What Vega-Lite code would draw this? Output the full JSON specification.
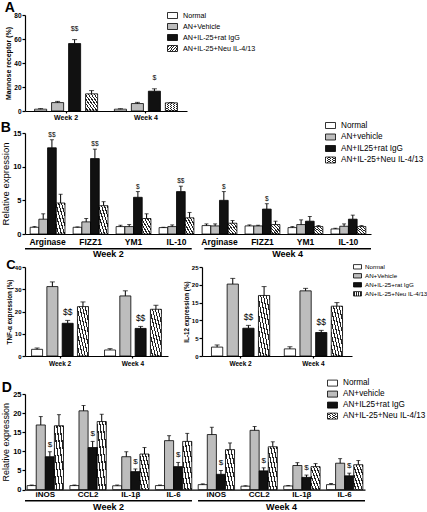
{
"$schema": "https://vega.github.io/schema/vega-lite/v6.json",
"background": "white",
"padding": 0,
"config": {
  "font": "Liberation Sans",
  "view": {"stroke": null},
  "axis": {"domainColor": "black", "tickColor": "black", "labelColor": "black", "titleColor": "black", "grid": false, "domainWidth": 1.2, "tickWidth": 1.2},
  "legend": {"labelColor": "black", "symbolStrokeColor": "black", "symbolStrokeWidth": 0.8},
  "title": {"anchor": "start", "frame": "bounds", "fontSize": 14, "fontWeight": "bold", "color": "black"}
},
"datasets": {
  "a": [
    {"week": "Week 2", "group": "Normal", "value": 1.5, "hi": 2.0},
    {"week": "Week 2", "group": "AN+Vehicle", "value": 7.0, "hi": 8.0},
    {"week": "Week 2", "group": "AN+IL-25+rat IgG", "value": 56.2, "hi": 59.5, "sig": "$$"},
    {"week": "Week 2", "group": "AN+IL-25+Neu IL-4/13", "value": 14.3, "hi": 17.0},
    {"week": "Week 4", "group": "Normal", "value": 1.5, "hi": 1.9},
    {"week": "Week 4", "group": "AN+Vehicle", "value": 6.2, "hi": 7.2},
    {"week": "Week 4", "group": "AN+IL-25+rat IgG", "value": 16.5, "hi": 18.5, "sig": "$"},
    {"week": "Week 4", "group": "AN+IL-25+Neu IL-4/13", "value": 6.8, "hi": 7.0}
  ],
  "b": [
    {"cat": "Arginase_W2", "group": "Normal", "value": 1.0, "hi": 1.1},
    {"cat": "Arginase_W2", "group": "AN+vehicle", "value": 2.2, "hi": 3.0},
    {"cat": "Arginase_W2", "group": "AN+IL25+rat IgG", "value": 12.8, "hi": 14.0, "sig": "$$"},
    {"cat": "Arginase_W2", "group": "AN+IL-25+Neu IL-4/13", "value": 4.6, "hi": 5.9},
    {"cat": "FIZZ1_W2", "group": "Normal", "value": 1.0, "hi": 1.05},
    {"cat": "FIZZ1_W2", "group": "AN+vehicle", "value": 1.8, "hi": 2.3},
    {"cat": "FIZZ1_W2", "group": "AN+IL25+rat IgG", "value": 11.2, "hi": 12.6, "sig": "$$"},
    {"cat": "FIZZ1_W2", "group": "AN+IL-25+Neu IL-4/13", "value": 4.2, "hi": 4.8},
    {"cat": "YM1_W2", "group": "Normal", "value": 1.1, "hi": 1.3},
    {"cat": "YM1_W2", "group": "AN+vehicle", "value": 1.1, "hi": 1.4},
    {"cat": "YM1_W2", "group": "AN+IL25+rat IgG", "value": 5.45, "hi": 6.3, "sig": "$"},
    {"cat": "YM1_W2", "group": "AN+IL-25+Neu IL-4/13", "value": 2.3, "hi": 3.0},
    {"cat": "IL-10_W2", "group": "Normal", "value": 0.95, "hi": 1.0},
    {"cat": "IL-10_W2", "group": "AN+vehicle", "value": 1.1, "hi": 1.35},
    {"cat": "IL-10_W2", "group": "AN+IL25+rat IgG", "value": 6.3, "hi": 7.1, "sig": "$$"},
    {"cat": "IL-10_W2", "group": "AN+IL-25+Neu IL-4/13", "value": 2.4, "hi": 3.2},
    {"cat": "Arginase_W4", "group": "Normal", "value": 1.25, "hi": 1.5},
    {"cat": "Arginase_W4", "group": "AN+vehicle", "value": 1.2, "hi": 1.5},
    {"cat": "Arginase_W4", "group": "AN+IL25+rat IgG", "value": 5.0, "hi": 6.3, "sig": "$"},
    {"cat": "Arginase_W4", "group": "AN+IL-25+Neu IL-4/13", "value": 1.6, "hi": 2.0},
    {"cat": "FIZZ1_W4", "group": "Normal", "value": 1.2, "hi": 1.35},
    {"cat": "FIZZ1_W4", "group": "AN+vehicle", "value": 1.2, "hi": 1.3},
    {"cat": "FIZZ1_W4", "group": "AN+IL25+rat IgG", "value": 3.7, "hi": 4.5, "sig": "$"},
    {"cat": "FIZZ1_W4", "group": "AN+IL-25+Neu IL-4/13", "value": 1.4, "hi": 1.9},
    {"cat": "YM1_W4", "group": "Normal", "value": 0.95, "hi": 1.1},
    {"cat": "YM1_W4", "group": "AN+vehicle", "value": 1.4, "hi": 2.1},
    {"cat": "YM1_W4", "group": "AN+IL25+rat IgG", "value": 1.9, "hi": 2.6},
    {"cat": "YM1_W4", "group": "AN+IL-25+Neu IL-4/13", "value": 1.1, "hi": 1.25},
    {"cat": "IL-10_W4", "group": "Normal", "value": 0.75, "hi": 0.85},
    {"cat": "IL-10_W4", "group": "AN+vehicle", "value": 1.15, "hi": 1.5},
    {"cat": "IL-10_W4", "group": "AN+IL25+rat IgG", "value": 2.2, "hi": 2.8},
    {"cat": "IL-10_W4", "group": "AN+IL-25+Neu IL-4/13", "value": 1.1, "hi": 1.25}
  ],
  "c1": [
    {"week": "Week 2", "group": "Normal", "value": 3.0, "hi": 3.6},
    {"week": "Week 2", "group": "AN+Vehicle", "value": 31.2, "hi": 33.3},
    {"week": "Week 2", "group": "AN+IL-25+rat IgG", "value": 14.7, "hi": 16.0, "sig": "$$"},
    {"week": "Week 2", "group": "AN+IL-25+Neu IL-4/13", "value": 22.2, "hi": 24.3},
    {"week": "Week 4", "group": "Normal", "value": 2.7, "hi": 3.3},
    {"week": "Week 4", "group": "AN+Vehicle", "value": 27.0, "hi": 29.3},
    {"week": "Week 4", "group": "AN+IL-25+rat IgG", "value": 12.4, "hi": 13.3, "sig": "$$"},
    {"week": "Week 4", "group": "AN+IL-25+Neu IL-4/13", "value": 21.0, "hi": 22.8}
  ],
  "c2": [
    {"week": "Week 2", "group": "Normal", "value": 2.5, "hi": 3.1},
    {"week": "Week 2", "group": "AN+Vehicle", "value": 20.2, "hi": 21.8},
    {"week": "Week 2", "group": "AN+IL-25+rat IgG", "value": 7.8, "hi": 8.6, "sig": "$$"},
    {"week": "Week 2", "group": "AN+IL-25+Neu IL-4/13", "value": 17.0, "hi": 19.5},
    {"week": "Week 4", "group": "Normal", "value": 2.0, "hi": 2.6},
    {"week": "Week 4", "group": "AN+Vehicle", "value": 18.3, "hi": 19.0},
    {"week": "Week 4", "group": "AN+IL-25+rat IgG", "value": 6.6, "hi": 7.2, "sig": "$$"},
    {"week": "Week 4", "group": "AN+IL-25+Neu IL-4/13", "value": 14.0, "hi": 15.0}
  ],
  "d": [
    {"cat": "iNOS_W2", "group": "Normal", "value": 1.05, "hi": 1.2},
    {"cat": "iNOS_W2", "group": "AN+vehicle", "value": 16.9, "hi": 19.1},
    {"cat": "iNOS_W2", "group": "AN+IL25+rat IgG", "value": 8.6, "hi": 9.9, "sig": "$"},
    {"cat": "iNOS_W2", "group": "AN+IL-25+Neu IL-4/13", "value": 16.7, "hi": 19.6},
    {"cat": "CCL2_W2", "group": "Normal", "value": 1.05, "hi": 1.2},
    {"cat": "CCL2_W2", "group": "AN+vehicle", "value": 20.6, "hi": 22.0},
    {"cat": "CCL2_W2", "group": "AN+IL25+rat IgG", "value": 11.0, "hi": 12.6, "sig": "$"},
    {"cat": "CCL2_W2", "group": "AN+IL-25+Neu IL-4/13", "value": 17.8, "hi": 19.7},
    {"cat": "IL-1β_W2", "group": "Normal", "value": 1.0, "hi": 1.2},
    {"cat": "IL-1β_W2", "group": "AN+vehicle", "value": 8.6, "hi": 9.9},
    {"cat": "IL-1β_W2", "group": "AN+IL25+rat IgG", "value": 4.7, "hi": 5.4, "sig": "$"},
    {"cat": "IL-1β_W2", "group": "AN+IL-25+Neu IL-4/13", "value": 9.3, "hi": 11.0},
    {"cat": "IL-6_W2", "group": "Normal", "value": 1.05, "hi": 1.2},
    {"cat": "IL-6_W2", "group": "AN+vehicle", "value": 12.8, "hi": 14.1},
    {"cat": "IL-6_W2", "group": "AN+IL25+rat IgG", "value": 6.0, "hi": 7.1, "sig": "$"},
    {"cat": "IL-6_W2", "group": "AN+IL-25+Neu IL-4/13", "value": 12.6, "hi": 14.7},
    {"cat": "iNOS_W4", "group": "Normal", "value": 1.3, "hi": 1.5},
    {"cat": "iNOS_W4", "group": "AN+vehicle", "value": 14.4, "hi": 16.3},
    {"cat": "iNOS_W4", "group": "AN+IL25+rat IgG", "value": 4.0, "hi": 5.0, "sig": "$"},
    {"cat": "iNOS_W4", "group": "AN+IL-25+Neu IL-4/13", "value": 10.45, "hi": 12.2},
    {"cat": "CCL2_W4", "group": "Normal", "value": 0.9, "hi": 1.0},
    {"cat": "CCL2_W4", "group": "AN+vehicle", "value": 15.5, "hi": 16.5},
    {"cat": "CCL2_W4", "group": "AN+IL25+rat IgG", "value": 4.9, "hi": 5.7, "sig": "$"},
    {"cat": "CCL2_W4", "group": "AN+IL-25+Neu IL-4/13", "value": 11.2, "hi": 12.5},
    {"cat": "IL-1β_W4", "group": "Normal", "value": 0.95, "hi": 1.05},
    {"cat": "IL-1β_W4", "group": "AN+vehicle", "value": 6.3, "hi": 7.05},
    {"cat": "IL-1β_W4", "group": "AN+IL25+rat IgG", "value": 3.2, "hi": 3.8, "sig": "$"},
    {"cat": "IL-1β_W4", "group": "AN+IL-25+Neu IL-4/13", "value": 6.0, "hi": 6.8},
    {"cat": "IL-6_W4", "group": "Normal", "value": 1.3, "hi": 1.6},
    {"cat": "IL-6_W4", "group": "AN+vehicle", "value": 6.9, "hi": 8.1},
    {"cat": "IL-6_W4", "group": "AN+IL25+rat IgG", "value": 3.6, "hi": 4.3, "sig": "$"},
    {"cat": "IL-6_W4", "group": "AN+IL-25+Neu IL-4/13", "value": 6.5, "hi": 7.6}
  ],
  "weeks": [{"week": "Week 2"}, {"week": "Week 4"}]
},
"concat": [
  {
    "title": {"text": "A", "offset": -4.8},
    "width": 162, "height": 96,
    "data": {"name": "a"},
    "encoding": {
      "x": {"field": "week", "type": "nominal", "scale": {"paddingInner": 0.21, "paddingOuter": 0.12}, "axis": {"title": null, "labelAngle": 0, "labelFontSize": 7, "labelFontWeight": "bold", "tickSize": 2, "labelPadding": 0}},
      "xOffset": {"field": "group", "type": "nominal", "sort": ["Normal", "AN+Vehicle", "AN+IL-25+rat IgG", "AN+IL-25+Neu IL-4/13"], "scale": {"paddingInner": 0.29}},
      "y": {"field": "value", "type": "quantitative", "scale": {"domain": [0, 80], "nice": false}, "axis": {"values": [0, 20, 40, 60, 80], "title": "Mannose receptor (%)", "titleFontSize": 7, "labelFontSize": 6.5, "labelFontWeight": "bold", "tickSize": 3, "labelPadding": 1, "titlePadding": 2}}
    },
    "layer": [
      {"mark": {"type": "bar", "stroke": "black", "strokeWidth": 0.8},
       "encoding": {
         "color": {"field": "group", "type": "nominal",
           "scale": {"domain": ["Normal", "AN+Vehicle", "AN+IL-25+rat IgG", "AN+IL-25+Neu IL-4/13"], "range": ["white", "#bdbdbd", "#111111", {"expr": "{gradient: 'linear', x1: 0, y1: 1, x2: 1, y2: 0, stops: [{offset: 0, color: 'white'}, {offset: 0.075, color: 'white'}, {offset: 0.075, color: '#222'}, {offset: 0.125, color: '#222'}, {offset: 0.125, color: 'white'}, {offset: 0.2, color: 'white'}, {offset: 0.2, color: '#222'}, {offset: 0.25, color: '#222'}, {offset: 0.25, color: 'white'}, {offset: 0.325, color: 'white'}, {offset: 0.325, color: '#222'}, {offset: 0.375, color: '#222'}, {offset: 0.375, color: 'white'}, {offset: 0.45, color: 'white'}, {offset: 0.45, color: '#222'}, {offset: 0.5, color: '#222'}, {offset: 0.5, color: 'white'}, {offset: 0.575, color: 'white'}, {offset: 0.575, color: '#222'}, {offset: 0.625, color: '#222'}, {offset: 0.625, color: 'white'}, {offset: 0.7, color: 'white'}, {offset: 0.7, color: '#222'}, {offset: 0.75, color: '#222'}, {offset: 0.75, color: 'white'}, {offset: 0.825, color: 'white'}, {offset: 0.825, color: '#222'}, {offset: 0.875, color: '#222'}, {offset: 0.875, color: 'white'}, {offset: 0.95, color: 'white'}, {offset: 0.95, color: '#222'}, {offset: 1, color: '#222'}]}"}]},
           "legend": {"orient": "none", "legendX": 142, "legendY": -5, "title": null, "symbolType": "M-1,-0.6H1V0.6H-1Z", "symbolSize": 100, "labelFontSize": 7.2, "labelOffset": 5, "rowPadding": -4}}
       }},
      {"mark": {"type": "rule", "color": "black", "strokeWidth": 1}, "encoding": {"y2": {"field": "hi"}}},
      {"mark": {"type": "tick", "color": "black", "orient": "horizontal", "size": 5, "thickness": 1}, "encoding": {"y": {"field": "hi", "type": "quantitative"}}},
      {"transform": [{"filter": "datum.sig != null"}], "mark": {"type": "text", "baseline": "bottom", "dy": -8, "fontSize": 7}, "encoding": {"y": {"field": "hi", "type": "quantitative"}, "text": {"field": "sig"}}}
    ]
  },
  {
    "vconcat": [
      {
        "title": {"text": "B", "offset": -15},
        "width": 346, "height": 101,
        "data": {"name": "b"},
        "encoding": {
          "x": {"field": "cat", "type": "nominal", "sort": ["Arginase_W2", "FIZZ1_W2", "YM1_W2", "IL-10_W2", "Arginase_W4", "FIZZ1_W4", "YM1_W4", "IL-10_W4"], "scale": {"paddingInner": 0.19, "paddingOuter": 0.12}, "axis": {"title": null, "labelAngle": 0, "labelExpr": "split(datum.label, '_')[0]", "labelFontSize": 8.5, "labelFontWeight": "bold", "ticks": false, "labelPadding": 3}},
          "xOffset": {"field": "group", "type": "nominal", "sort": ["Normal", "AN+vehicle", "AN+IL25+rat IgG", "AN+IL-25+Neu IL-4/13"], "scale": {"paddingInner": 0}},
          "y": {"field": "value", "type": "quantitative", "scale": {"domain": [0, 15], "nice": false}, "axis": {"values": [0, 5, 10, 15], "title": "Relative expression", "titleFontSize": 9.5, "titleFontWeight": "normal", "labelFontSize": 7.5, "labelFontWeight": "bold", "tickSize": 3, "labelPadding": 1, "titlePadding": 2}}
        },
        "layer": [
          {"mark": {"type": "bar", "stroke": "black", "strokeWidth": 0.8},
           "encoding": {
             "color": {"field": "group", "type": "nominal",
               "scale": {"domain": ["Normal", "AN+vehicle", "AN+IL25+rat IgG", "AN+IL-25+Neu IL-4/13"], "range": ["white", "#bdbdbd", "#111111", {"expr": "{gradient: 'linear', x1: 0, y1: 1, x2: 1, y2: 0, stops: [{offset: 0, color: 'white'}, {offset: 0.1, color: 'white'}, {offset: 0.1, color: '#222'}, {offset: 0.1667, color: '#222'}, {offset: 0.1667, color: 'white'}, {offset: 0.2667, color: 'white'}, {offset: 0.2667, color: '#222'}, {offset: 0.3333, color: '#222'}, {offset: 0.3333, color: 'white'}, {offset: 0.4333, color: 'white'}, {offset: 0.4333, color: '#222'}, {offset: 0.5, color: '#222'}, {offset: 0.5, color: 'white'}, {offset: 0.6, color: 'white'}, {offset: 0.6, color: '#222'}, {offset: 0.6667, color: '#222'}, {offset: 0.6667, color: 'white'}, {offset: 0.7667, color: 'white'}, {offset: 0.7667, color: '#222'}, {offset: 0.8333, color: '#222'}, {offset: 0.8333, color: 'white'}, {offset: 0.9333, color: 'white'}, {offset: 0.9333, color: '#222'}, {offset: 1, color: '#222'}]}"}]},
               "legend": {"orient": "none", "legendX": 300, "legendY": -13, "title": null, "symbolType": "M-1,-0.6H1V0.6H-1Z", "symbolSize": 100, "labelFontSize": 8.2, "labelOffset": 5, "rowPadding": 0.5}}
           }},
          {"mark": {"type": "rule", "color": "black", "strokeWidth": 1}, "encoding": {"y2": {"field": "hi"}}},
          {"mark": {"type": "tick", "color": "black", "orient": "horizontal", "size": 4, "thickness": 1}, "encoding": {"y": {"field": "hi", "type": "quantitative"}}},
          {"transform": [{"filter": "datum.sig != null"}], "mark": {"type": "text", "baseline": "bottom", "dy": -2, "fontSize": 6.5}, "encoding": {"y": {"field": "hi", "type": "quantitative"}, "text": {"field": "sig"}}}
        ]
      },
      {
        "width": 346, "height": 1.5,
        "data": {"name": "weeks"},
        "mark": {"type": "rect", "color": "black"},
        "encoding": {"x": {"field": "week", "type": "nominal", "scale": {"paddingInner": 0.07, "paddingOuter": 0}, "axis": {"title": null, "domain": false, "ticks": false, "labelAngle": 0, "labelFontSize": 9, "labelFontWeight": "bold", "labelPadding": 0}}}
      }
    ],
    "spacing": 2,
    "resolve": {"scale": {"color": "independent", "xOffset": "independent"}, "legend": {"color": "independent"}}
  },
  {
    "hconcat": [
      {
        "title": {"text": "C", "offset": -8.4, "fontSize": 13},
        "width": 143, "height": 89,
        "data": {"name": "c1"},
        "encoding": {
          "x": {"field": "week", "type": "nominal", "scale": {"paddingInner": 0.22, "paddingOuter": 0.09}, "axis": {"title": null, "labelAngle": 0, "labelFontSize": 6.5, "labelFontWeight": "bold", "tickSize": 2, "labelPadding": 2, "minExtent": 21}},
          "xOffset": {"field": "group", "type": "nominal", "sort": ["Normal", "AN+Vehicle", "AN+IL-25+rat IgG", "AN+IL-25+Neu IL-4/13"], "scale": {"paddingInner": 0.28}},
          "y": {"field": "value", "type": "quantitative", "scale": {"domain": [0, 40], "nice": false}, "axis": {"values": [0, 10, 20, 30, 40], "title": "TNF-α expression (%)", "titleFontSize": 6.3, "labelFontSize": 6, "labelFontWeight": "bold", "tickSize": 3, "labelPadding": 1, "titlePadding": 2}}
        },
        "layer": [
          {"mark": {"type": "bar", "stroke": "black", "strokeWidth": 0.8},
           "encoding": {
             "color": {"field": "group", "type": "nominal",
               "scale": {"domain": ["Normal", "AN+Vehicle", "AN+IL-25+rat IgG", "AN+IL-25+Neu IL-4/13"], "range": ["white", "#bdbdbd", "#111111", {"expr": "{gradient: 'linear', x1: 0, y1: 1, x2: 1, y2: 0, stops: [{offset: 0, color: 'white'}, {offset: 0.075, color: 'white'}, {offset: 0.075, color: '#222'}, {offset: 0.125, color: '#222'}, {offset: 0.125, color: 'white'}, {offset: 0.2, color: 'white'}, {offset: 0.2, color: '#222'}, {offset: 0.25, color: '#222'}, {offset: 0.25, color: 'white'}, {offset: 0.325, color: 'white'}, {offset: 0.325, color: '#222'}, {offset: 0.375, color: '#222'}, {offset: 0.375, color: 'white'}, {offset: 0.45, color: 'white'}, {offset: 0.45, color: '#222'}, {offset: 0.5, color: '#222'}, {offset: 0.5, color: 'white'}, {offset: 0.575, color: 'white'}, {offset: 0.575, color: '#222'}, {offset: 0.625, color: '#222'}, {offset: 0.625, color: 'white'}, {offset: 0.7, color: 'white'}, {offset: 0.7, color: '#222'}, {offset: 0.75, color: '#222'}, {offset: 0.75, color: 'white'}, {offset: 0.825, color: 'white'}, {offset: 0.825, color: '#222'}, {offset: 0.875, color: '#222'}, {offset: 0.875, color: 'white'}, {offset: 0.95, color: 'white'}, {offset: 0.95, color: '#222'}, {offset: 1, color: '#222'}]}"}]},
               "legend": null}
           }},
          {"mark": {"type": "rule", "color": "black", "strokeWidth": 1}, "encoding": {"y2": {"field": "hi"}}},
          {"mark": {"type": "tick", "color": "black", "orient": "horizontal", "size": 5, "thickness": 1}, "encoding": {"y": {"field": "hi", "type": "quantitative"}}},
          {"transform": [{"filter": "datum.sig != null"}], "mark": {"type": "text", "baseline": "bottom", "dy": -3, "fontSize": 8.5}, "encoding": {"y": {"field": "hi", "type": "quantitative"}, "text": {"field": "sig"}}}
        ]
      },
      {
        "width": 150, "height": 89,
        "data": {"name": "c2"},
        "encoding": {
          "x": {"field": "week", "type": "nominal", "scale": {"paddingInner": 0.2, "paddingOuter": 0.13}, "axis": {"title": null, "labelAngle": 0, "labelFontSize": 6.5, "labelFontWeight": "bold", "tickSize": 2, "labelPadding": 2, "minExtent": 21}},
          "xOffset": {"field": "group", "type": "nominal", "sort": ["Normal", "AN+Vehicle", "AN+IL-25+rat IgG", "AN+IL-25+Neu IL-4/13"], "scale": {"paddingInner": 0.28}},
          "y": {"field": "value", "type": "quantitative", "scale": {"domain": [0, 25], "nice": false}, "axis": {"values": [0, 5, 10, 15, 20, 25], "title": "IL-12 expression (%)", "titleFontSize": 6.3, "labelFontSize": 6, "labelFontWeight": "bold", "tickSize": 3, "labelPadding": 1, "titlePadding": 2}}
        },
        "layer": [
          {"mark": {"type": "bar", "stroke": "black", "strokeWidth": 0.8},
           "encoding": {
             "color": {"field": "group", "type": "nominal",
               "scale": {"domain": ["Normal", "AN+Vehicle", "AN+IL-25+rat IgG", "AN+IL-25+Neu IL-4/13"], "range": ["white", "#bdbdbd", "#111111", {"expr": "{gradient: 'linear', x1: 0, y1: 1, x2: 1, y2: 0, stops: [{offset: 0, color: 'white'}, {offset: 0.075, color: 'white'}, {offset: 0.075, color: '#222'}, {offset: 0.125, color: '#222'}, {offset: 0.125, color: 'white'}, {offset: 0.2, color: 'white'}, {offset: 0.2, color: '#222'}, {offset: 0.25, color: '#222'}, {offset: 0.25, color: 'white'}, {offset: 0.325, color: 'white'}, {offset: 0.325, color: '#222'}, {offset: 0.375, color: '#222'}, {offset: 0.375, color: 'white'}, {offset: 0.45, color: 'white'}, {offset: 0.45, color: '#222'}, {offset: 0.5, color: '#222'}, {offset: 0.5, color: 'white'}, {offset: 0.575, color: 'white'}, {offset: 0.575, color: '#222'}, {offset: 0.625, color: '#222'}, {offset: 0.625, color: 'white'}, {offset: 0.7, color: 'white'}, {offset: 0.7, color: '#222'}, {offset: 0.75, color: '#222'}, {offset: 0.75, color: 'white'}, {offset: 0.825, color: 'white'}, {offset: 0.825, color: '#222'}, {offset: 0.875, color: '#222'}, {offset: 0.875, color: 'white'}, {offset: 0.95, color: 'white'}, {offset: 0.95, color: '#222'}, {offset: 1, color: '#222'}]}"}]},
               "legend": {"orient": "none", "legendX": 151, "legendY": -4.7, "title": null, "symbolType": "M-1,-0.55H1V0.55H-1Z", "symbolSize": 64, "labelFontSize": 6.2, "labelOffset": 3, "rowPadding": -4.4}}
           }},
          {"mark": {"type": "rule", "color": "black", "strokeWidth": 1}, "encoding": {"y2": {"field": "hi"}}},
          {"mark": {"type": "tick", "color": "black", "orient": "horizontal", "size": 5, "thickness": 1}, "encoding": {"y": {"field": "hi", "type": "quantitative"}}},
          {"transform": [{"filter": "datum.sig != null"}], "mark": {"type": "text", "baseline": "bottom", "dy": -3, "fontSize": 8.5}, "encoding": {"y": {"field": "hi", "type": "quantitative"}, "text": {"field": "sig"}}}
        ]
      }
    ],
    "spacing": 15,
    "resolve": {"scale": {"color": "independent", "xOffset": "independent"}, "legend": {"color": "independent"}}
  },
  {
    "vconcat": [
      {
        "title": {"text": "D", "offset": -17.6},
        "width": 340, "height": 95.6,
        "data": {"name": "d"},
        "encoding": {
          "x": {"field": "cat", "type": "nominal", "sort": ["iNOS_W2", "CCL2_W2", "IL-1β_W2", "IL-6_W2", "iNOS_W4", "CCL2_W4", "IL-1β_W4", "IL-6_W4"], "scale": {"paddingInner": 0.15, "paddingOuter": 0.05}, "axis": {"title": null, "labelAngle": 0, "labelExpr": "split(datum.label, '_')[0]", "labelFontSize": 8, "labelFontWeight": "bold", "ticks": false, "labelPadding": 0.5}},
          "xOffset": {"field": "group", "type": "nominal", "sort": ["Normal", "AN+vehicle", "AN+IL25+rat IgG", "AN+IL-25+Neu IL-4/13"], "scale": {"paddingInner": 0}},
          "y": {"field": "value", "type": "quantitative", "scale": {"domain": [0, 25], "nice": false}, "axis": {"values": [0, 5, 10, 15, 20, 25], "title": "Relative expression", "titleFontSize": 9, "titleFontWeight": "normal", "labelFontSize": 7.5, "labelFontWeight": "bold", "tickSize": 3, "labelPadding": 1, "titlePadding": 2}}
        },
        "layer": [
          {"mark": {"type": "bar", "stroke": "black", "strokeWidth": 0.8},
           "encoding": {
             "color": {"field": "group", "type": "nominal",
               "scale": {"domain": ["Normal", "AN+vehicle", "AN+IL25+rat IgG", "AN+IL-25+Neu IL-4/13"], "range": ["white", "#bdbdbd", "#111111", {"expr": "{gradient: 'linear', x1: 0, y1: 1, x2: 1, y2: 0, stops: [{offset: 0, color: 'white'}, {offset: 0.1, color: 'white'}, {offset: 0.1, color: '#222'}, {offset: 0.1667, color: '#222'}, {offset: 0.1667, color: 'white'}, {offset: 0.2667, color: 'white'}, {offset: 0.2667, color: '#222'}, {offset: 0.3333, color: '#222'}, {offset: 0.3333, color: 'white'}, {offset: 0.4333, color: 'white'}, {offset: 0.4333, color: '#222'}, {offset: 0.5, color: '#222'}, {offset: 0.5, color: 'white'}, {offset: 0.6, color: 'white'}, {offset: 0.6, color: '#222'}, {offset: 0.6667, color: '#222'}, {offset: 0.6667, color: 'white'}, {offset: 0.7667, color: 'white'}, {offset: 0.7667, color: '#222'}, {offset: 0.8333, color: '#222'}, {offset: 0.8333, color: 'white'}, {offset: 0.9333, color: 'white'}, {offset: 0.9333, color: '#222'}, {offset: 1, color: '#222'}]}"}]},
               "legend": {"orient": "none", "legendX": 302, "legendY": -16.4, "title": null, "symbolType": "M-1,-0.6H1V0.6H-1Z", "symbolSize": 100, "labelFontSize": 8.2, "labelOffset": 5, "rowPadding": -1.9}}
           }},
          {"mark": {"type": "rule", "color": "black", "strokeWidth": 1}, "encoding": {"y2": {"field": "hi"}}},
          {"mark": {"type": "tick", "color": "black", "orient": "horizontal", "size": 4, "thickness": 1}, "encoding": {"y": {"field": "hi", "type": "quantitative"}}},
          {"transform": [{"filter": "datum.sig != null"}], "mark": {"type": "text", "baseline": "bottom", "dy": -3, "fontSize": 8}, "encoding": {"y": {"field": "hi", "type": "quantitative"}, "text": {"field": "sig"}}}
        ]
      },
      {
        "width": 340, "height": 1.5,
        "data": {"name": "weeks"},
        "mark": {"type": "rect", "color": "black"},
        "encoding": {"x": {"field": "week", "type": "nominal", "scale": {"paddingInner": 0.035, "paddingOuter": 0}, "axis": {"title": null, "domain": false, "ticks": false, "labelAngle": 0, "labelFontSize": 9, "labelFontWeight": "bold", "labelPadding": 1}}}
      }
    ],
    "spacing": 1,
    "resolve": {"scale": {"color": "independent", "xOffset": "independent"}, "legend": {"color": "independent"}}
  }
],
"columns": 1,
"align": "none",
"spacing": 0,
"resolve": {"scale": {"color": "independent", "xOffset": "independent"}, "legend": {"color": "independent"}}
}
